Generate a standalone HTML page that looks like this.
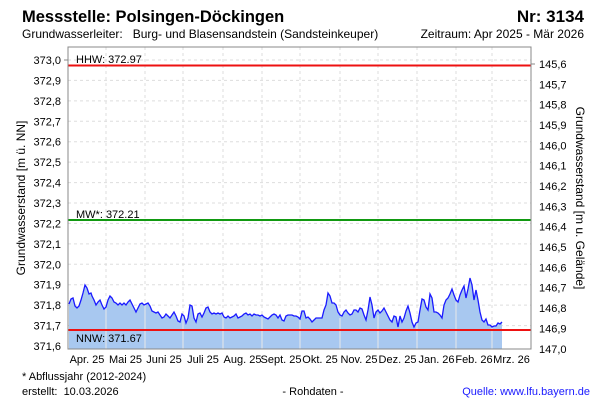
<!DOCTYPE html>
<html><head><meta charset="utf-8"><style>
body{margin:0;background:#fff}
svg{display:block;font-family:"Liberation Sans",sans-serif}
text{white-space:pre}
</style></head><body>
<svg width="600" height="400" viewBox="0 0 600 400">
<rect width="600" height="400" fill="#fff"/>
<text x="22" y="22" font-size="16.5" font-weight="bold">Messstelle: Polsingen-Döckingen</text>
<text x="584" y="22" font-size="17" font-weight="bold" text-anchor="end">Nr: 3134</text>
<text x="22" y="38" font-size="12">Grundwasserleiter:   Burg- und Blasensandstein (Sandsteinkeuper)</text>
<text x="584" y="38" font-size="12" text-anchor="end">Zeitraum: Apr 2025 - Mär 2026</text>
<g stroke="#ddd" stroke-dasharray="3,3" stroke-width="1">
<line x1="68" x2="531" y1="80.4" y2="80.4"/><line x1="68" x2="531" y1="100.9" y2="100.9"/><line x1="68" x2="531" y1="121.3" y2="121.3"/><line x1="68" x2="531" y1="141.7" y2="141.7"/><line x1="68" x2="531" y1="162.1" y2="162.1"/><line x1="68" x2="531" y1="182.6" y2="182.6"/><line x1="68" x2="531" y1="203" y2="203"/><line x1="68" x2="531" y1="223.4" y2="223.4"/><line x1="68" x2="531" y1="243.9" y2="243.9"/><line x1="68" x2="531" y1="264.3" y2="264.3"/><line x1="68" x2="531" y1="284.7" y2="284.7"/><line x1="68" x2="531" y1="305.1" y2="305.1"/><line x1="68" x2="531" y1="325.6" y2="325.6"/><line x1="68" x2="531" y1="60" y2="60"/>
<line y1="47" y2="349" x1="106" x2="106"/><line y1="47" y2="349" x1="145" x2="145"/><line y1="47" y2="349" x1="183" x2="183"/><line y1="47" y2="349" x1="223" x2="223"/><line y1="47" y2="349" x1="262" x2="262"/><line y1="47" y2="349" x1="300" x2="300"/><line y1="47" y2="349" x1="340" x2="340"/><line y1="47" y2="349" x1="378" x2="378"/><line y1="47" y2="349" x1="417" x2="417"/><line y1="47" y2="349" x1="456" x2="456"/><line y1="47" y2="349" x1="492" x2="492"/>
</g>
<polygon fill="#a8c8f0" stroke="none" points="69,349 69,304 71,299 73,298 75,306 77,308 79,306 81,300 83,293 85,285 87,288 89,294 91,293 92,296 94,300 96,305 98,302 100,300 102,305 104,309 106,307 108,300 110,296 112,298 114,302 116,303 118,305 120,303 122,305 124,303 126,305 128,302 130,300 132,304 134,308 136,312 138,308 140,304 142,303 144,305 146,304 148,303 150,306 152,311 154,312 156,313 158,312 160,315 162,318 164,317 166,314 168,316 170,318 172,315 174,312 176,316 178,321 180,322 182,314 184,316 186,323 188,318 190,305 192,306 194,318 196,322 198,314 200,313 202,317 204,313 206,308 208,307 210,312 212,314 214,313 216,314 218,313 220,314 222,313 224,317 226,318 228,316 230,318 232,317 234,316 236,314 238,318 240,317 242,316 244,314 246,313 248,315 250,314 252,316 254,314 256,315 258,315 260,316 262,315 264,317 266,318 268,319 270,317 272,315 274,314 276,315 278,318 280,315 282,320 284,321 286,316 288,315 290,315 292,315 294,316 296,316 298,317 300,319 302,311 304,311 306,318 308,317 310,319 312,322 314,320 316,318 318,318 320,318 322,318 324,310 326,305 328,293 330,296 332,303 334,303 336,305 338,312 340,315 342,316 344,312 346,310 348,313 350,315 352,314 354,310 356,310 358,312 360,308 362,309 364,315 366,320 368,310 370,297 372,305 374,318 376,312 378,310 380,313 382,311 384,308 386,312 388,316 390,320 392,322 394,316 396,317 398,327 400,316 402,322 404,318 406,311 408,306 410,313 412,322 414,327 416,323 418,322 420,310 422,299 424,300 426,307 428,310 430,294 432,298 434,312 436,312 438,313 440,315 442,318 444,305 446,300 448,298 450,294 452,289 454,295 456,300 458,302 460,295 462,290 464,286 466,298 468,289 470,278 472,285 474,300 476,290 478,300 480,312 482,320 484,322 486,319 488,325 490,325 492,327 494,326 496,326 498,323 500,324 502,322 502,349"/>
<g stroke="#e8e8e8" stroke-width="1">
<line y1="300" y2="349" x1="106" x2="106"/><line y1="305" y2="349" x1="145" x2="145"/><line y1="315" y2="349" x1="183" x2="183"/><line y1="315" y2="349" x1="223" x2="223"/><line y1="318" y2="349" x1="262" x2="262"/><line y1="320" y2="349" x1="300" x2="300"/><line y1="318" y2="349" x1="340" x2="340"/><line y1="315" y2="349" x1="378" x2="378"/><line y1="315" y2="349" x1="417" x2="417"/><line y1="302" y2="349" x1="456" x2="456"/><line y1="328" y2="349" x1="492" x2="492"/>
</g>
<polyline fill="none" stroke="#1a1aff" stroke-width="1.3" points="69,304 71,299 73,298 75,306 77,308 79,306 81,300 83,293 85,285 87,288 89,294 91,293 92,296 94,300 96,305 98,302 100,300 102,305 104,309 106,307 108,300 110,296 112,298 114,302 116,303 118,305 120,303 122,305 124,303 126,305 128,302 130,300 132,304 134,308 136,312 138,308 140,304 142,303 144,305 146,304 148,303 150,306 152,311 154,312 156,313 158,312 160,315 162,318 164,317 166,314 168,316 170,318 172,315 174,312 176,316 178,321 180,322 182,314 184,316 186,323 188,318 190,305 192,306 194,318 196,322 198,314 200,313 202,317 204,313 206,308 208,307 210,312 212,314 214,313 216,314 218,313 220,314 222,313 224,317 226,318 228,316 230,318 232,317 234,316 236,314 238,318 240,317 242,316 244,314 246,313 248,315 250,314 252,316 254,314 256,315 258,315 260,316 262,315 264,317 266,318 268,319 270,317 272,315 274,314 276,315 278,318 280,315 282,320 284,321 286,316 288,315 290,315 292,315 294,316 296,316 298,317 300,319 302,311 304,311 306,318 308,317 310,319 312,322 314,320 316,318 318,318 320,318 322,318 324,310 326,305 328,293 330,296 332,303 334,303 336,305 338,312 340,315 342,316 344,312 346,310 348,313 350,315 352,314 354,310 356,310 358,312 360,308 362,309 364,315 366,320 368,310 370,297 372,305 374,318 376,312 378,310 380,313 382,311 384,308 386,312 388,316 390,320 392,322 394,316 396,317 398,327 400,316 402,322 404,318 406,311 408,306 410,313 412,322 414,327 416,323 418,322 420,310 422,299 424,300 426,307 428,310 430,294 432,298 434,312 436,312 438,313 440,315 442,318 444,305 446,300 448,298 450,294 452,289 454,295 456,300 458,302 460,295 462,290 464,286 466,298 468,289 470,278 472,285 474,300 476,290 478,300 480,312 482,320 484,322 486,319 488,325 490,325 492,327 494,326 496,326 498,323 500,324 502,322"/>
<line x1="68" x2="531" y1="65.5" y2="65.5" stroke="#ee1111" stroke-width="2"/>
<line x1="68" x2="531" y1="220" y2="220" stroke="#119911" stroke-width="2"/>
<line x1="68" x2="531" y1="330" y2="330" stroke="#ee1111" stroke-width="2"/>
<g font-size="11">
<text x="76" y="63">HHW: 372.97</text>
<text x="76" y="218">MW*: 372.21</text>
<text x="76" y="342">NNW: 371.67</text>
</g>
<rect x="68" y="47" width="463" height="302" fill="none" stroke="#888" stroke-width="1"/>
<g stroke="#888"><line x1="64" x2="68" y1="60" y2="60"/><line x1="531" x2="535" y1="64" y2="64"/></g>
<g font-size="11" text-anchor="end">
<text x="61" y="64">373,0</text><text x="61" y="84.4">372,9</text><text x="61" y="104.9">372,8</text><text x="61" y="125.3">372,7</text><text x="61" y="145.7">372,6</text><text x="61" y="166.1">372,5</text><text x="61" y="186.6">372,4</text><text x="61" y="207">372,3</text><text x="61" y="227.4">372,2</text><text x="61" y="247.9">372,1</text><text x="61" y="268.3">372,0</text><text x="61" y="288.7">371,9</text><text x="61" y="309.1">371,8</text><text x="61" y="329.6">371,7</text><text x="61" y="350">371,6</text>
</g>
<g font-size="11">
<text x="539" y="68">145,6</text><text x="539" y="88.3">145,7</text><text x="539" y="108.7">145,8</text><text x="539" y="129">145,9</text><text x="539" y="149.4">146,0</text><text x="539" y="169.7">146,1</text><text x="539" y="190">146,2</text><text x="539" y="210.4">146,3</text><text x="539" y="230.7">146,4</text><text x="539" y="251.1">146,5</text><text x="539" y="271.4">146,6</text><text x="539" y="291.7">146,7</text><text x="539" y="312.1">146,8</text><text x="539" y="332.4">146,9</text><text x="539" y="352.8">147,0</text>
</g>
<g font-size="11" text-anchor="middle">
<text x="87" y="363">Apr. 25</text><text x="125.5" y="363">Mai 25</text><text x="164" y="363">Juni 25</text><text x="203" y="363">Juli 25</text><text x="242.5" y="363">Aug. 25</text><text x="281" y="363">Sept. 25</text><text x="320" y="363">Okt. 25</text><text x="359" y="363">Nov. 25</text><text x="397.5" y="363">Dez. 25</text><text x="436.5" y="363">Jan. 26</text><text x="474" y="363">Feb. 26</text><text x="511.5" y="363">Mrz. 26</text>
</g>
<text transform="translate(25,198) rotate(-90)" font-size="12" text-anchor="middle">Grundwasserstand [m ü. NN]</text>
<text transform="translate(576,198) rotate(90)" font-size="12" text-anchor="middle">Grundwasserstand [m u. Gelände]</text>
<text x="22" y="380" font-size="11">* Abflussjahr (2012-2024)</text>
<text x="22" y="395" font-size="11">erstellt:  10.03.2026</text>
<text x="313" y="395" font-size="11" text-anchor="middle">- Rohdaten -</text>
<text x="590" y="395" font-size="11" text-anchor="end" fill="#1a1aff">Quelle: www.lfu.bayern.de</text>
</svg>
</body></html>
